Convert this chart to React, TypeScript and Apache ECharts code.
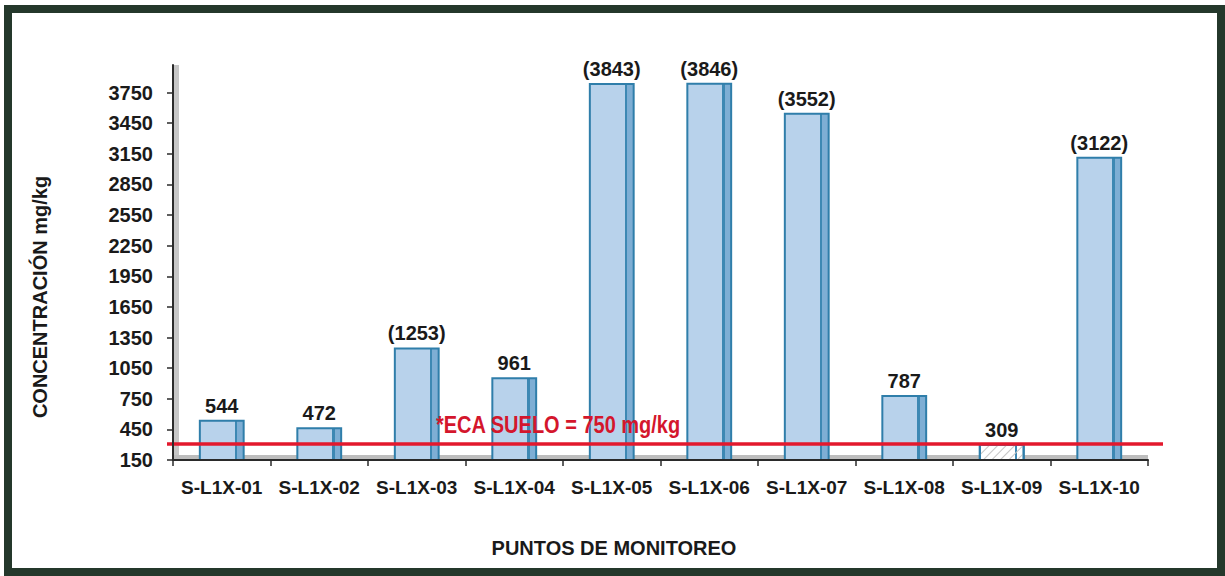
import React, { useEffect, useRef } from "react";
import * as echarts from "echarts";

const categories = ["S-L1X-01", "S-L1X-02", "S-L1X-03", "S-L1X-04", "S-L1X-05", "S-L1X-06", "S-L1X-07", "S-L1X-08", "S-L1X-09", "S-L1X-10"];
const values = [544, 472, 1253, 961, 3843, 3846, 3552, 787, 309, 3122];
const valueLabels = ["544", "472", "(1253)", "961", "(3843)", "(3846)", "(3552)", "787", "309", "(3122)"];
const yTicks = [150, 450, 750, 1050, 1350, 1650, 1950, 2250, 2550, 2850, 3150, 3450, 3750];
const ecaLineValue = 305;
const ecaText = "*ECA SUELO = 750 mg/kg";
const yTitle = "CONCENTRACIÓN mg/kg";
const xTitle = "PUNTOS DE MONITOREO";

const FONT = "'Liberation Sans', Arial, sans-serif";

export default function App() {
  const ref = useRef<HTMLDivElement>(null);
  useEffect(() => {
    document.body.style.margin = "0";
    const chart = echarts.init(ref.current!, null, { renderer: "svg" });
    const barFill = new echarts.graphic.LinearGradient(0, 0, 1, 0, [
      { offset: 0, color: "#b8d2eb" },
      { offset: 0.8, color: "#b8d2eb" },
      { offset: 0.8, color: "#3d88b3" },
      { offset: 0.85, color: "#3d88b3" },
      { offset: 0.85, color: "#7eaed4" },
      { offset: 1, color: "#7eaed4" },
    ]);
    const hatchFill = new echarts.graphic.LinearGradient(0, 0, 1, 0, [
      { offset: 0, color: "#ffffff" },
      { offset: 0.8, color: "#ffffff" },
      { offset: 0.8, color: "#3d88b3" },
      { offset: 0.85, color: "#3d88b3" },
      { offset: 0.85, color: "#ffffff" },
      { offset: 1, color: "#ffffff" },
    ]);
    const data = values.map((v, i) =>
      i === 8
        ? {
            value: v,
            itemStyle: {
              color: hatchFill,
              decal: {
                symbol: "rect",
                symbolSize: 1,
                dashArrayX: [1, 0],
                dashArrayY: [1, 5],
                rotation: -Math.PI / 4,
                color: "#c4c4c4",
              },
            },
          }
        : v
    );
    chart.setOption({
      animation: false,
      backgroundColor: "#ffffff",
      grid: { left: 173, right: 77, top: 65, bottom: 116, containLabel: false },
      xAxis: {
        type: "category",
        data: categories,
        axisLine: { show: true, onZero: false, lineStyle: { color: "#2a2a2a", width: 2 } },
        axisTick: { show: true, length: 6, lineStyle: { color: "#2a2a2a", width: 1.5 } },
        axisLabel: { interval: 0, color: "#1a1a1a", fontSize: 19, fontWeight: "bold", fontFamily: FONT, margin: 18 },
        z: 5,
      },
      yAxis: {
        type: "value",
        min: 150,
        max: 4020,
        interval: 300,
        axisLine: { show: true, lineStyle: { color: "#2a2a2a", width: 2 } },
        axisTick: { show: true, length: 6, customValues: yTicks, lineStyle: { color: "#2a2a2a", width: 1.5 } },
        axisLabel: {
          customValues: yTicks,
          formatter: (v: number) => String(v),
          color: "#1a1a1a",
          fontSize: 20,
          fontWeight: "bold",
          fontFamily: FONT,
          margin: 20,
        },
        splitLine: { show: false },
        z: 5,
      },
      series: [
        {
          type: "bar",
          data,
          barWidth: "47%",
          clip: true,
          itemStyle: { color: barFill, borderColor: "#2f7eaa", borderWidth: 2 },
          label: {
            show: true,
            position: "top",
            distance: 4,
            color: "#1a1a1a",
            fontSize: 20,
            fontWeight: "bold",
            fontFamily: FONT,
            formatter: (p: any) => valueLabels[p.dataIndex],
          },
        },
        {
          type: "line",
          data: [],
          clip: false,
          silent: true,
          markLine: {
            silent: true,
            symbol: ["none", "none"],
            label: { show: false },
            lineStyle: { color: "#e3182d", width: 3.5, type: "solid" },
            data: [[{ yAxis: ecaLineValue, x: 167 }, { yAxis: ecaLineValue, x: 1163 }]],
          },
          z: 10,
        },
      ],
      graphic: [
        {
          type: "rect",
          shape: { x: 8, y: 9, width: 1213, height: 563 },
          style: { fill: "none", stroke: "#24382b", lineWidth: 8 },
          silent: true,
        },
        {
          type: "rect",
          shape: { x: 174, y: 65, width: 5, height: 393 },
          style: { fill: "#c6c6c6" },
          silent: true,
          z: -1,
        },
        {
          type: "rect",
          shape: { x: 174, y: 455, width: 974, height: 4 },
          style: { fill: "#bdbdbd" },
          silent: true,
          z: -1,
        },
        {
          type: "text",
          x: 436,
          y: 425,
          scaleY: 1.2,
          originX: 0,
          originY: 0,
          style: {
            text: ecaText,
            fill: "#d4162c",
            font: `bold 20px ${FONT}`,
            textAlign: "left",
            textVerticalAlign: "middle",
          },
          z: 100,
        },
        {
          type: "text",
          x: 40,
          y: 297,
          rotation: Math.PI / 2,
          style: {
            text: yTitle,
            fill: "#1a1a1a",
            font: `bold 20px ${FONT}`,
            textAlign: "center",
            textVerticalAlign: "middle",
          },
        },
        {
          type: "text",
          x: 614,
          y: 548,
          style: {
            text: xTitle,
            fill: "#1a1a1a",
            font: `bold 20px ${FONT}`,
            textAlign: "center",
            textVerticalAlign: "middle",
          },
        },
      ],
    });
    return () => chart.dispose();
  }, []);
  return <div ref={ref} style={{ width: 1225, height: 576, position: "absolute", left: 0, top: 0 }} />;
}
